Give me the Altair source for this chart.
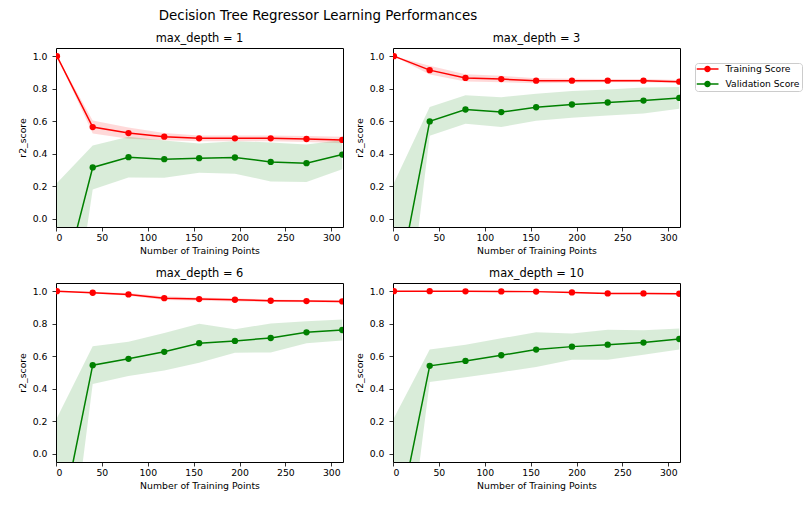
import altair as alt
import pandas as pd

sizes = [1, 40, 79, 118, 156, 195, 234, 273, 312]
depths = [1, 3, 6, 10]
series_names = ["Training Score", "Validation Score"]
series_colors = ["#ff0000", "#008000"]

train_mean_d1 = [1.0, 0.564, 0.527, 0.505, 0.495, 0.495, 0.495, 0.491, 0.485]
train_std_d1 = [0.0, 0.040, 0.035, 0.022, 0.018, 0.018, 0.018, 0.018, 0.020]
val_mean_d1 = [-0.54, 0.316, 0.379, 0.367, 0.373, 0.377, 0.350, 0.342, 0.395]
val_std_d1 = [0.76, 0.135, 0.125, 0.115, 0.090, 0.100, 0.120, 0.115, 0.090]

train_mean_d3 = [1.0, 0.914, 0.866, 0.859, 0.849, 0.849, 0.849, 0.849, 0.843]
train_std_d3 = [0.0, 0.027, 0.022, 0.020, 0.015, 0.012, 0.010, 0.010, 0.010]
val_mean_d3 = [-0.54, 0.599, 0.672, 0.656, 0.686, 0.703, 0.715, 0.727, 0.743]
val_std_d3 = [0.76, 0.088, 0.088, 0.092, 0.083, 0.082, 0.080, 0.080, 0.067]

train_mean_d6 = [1.0, 0.990, 0.980, 0.957, 0.951, 0.947, 0.941, 0.939, 0.937]
train_std_d6 = [0.0, 0.005, 0.008, 0.012, 0.010, 0.010, 0.008, 0.007, 0.007]
val_mean_d6 = [-0.54, 0.545, 0.584, 0.627, 0.680, 0.694, 0.712, 0.747, 0.761]
val_std_d6 = [0.76, 0.116, 0.105, 0.115, 0.120, 0.072, 0.089, 0.068, 0.064]

train_mean_d10 = [1.0, 1.0, 0.999, 0.998, 0.997, 0.992, 0.986, 0.986, 0.984]
train_std_d10 = [0.0, 0.001, 0.002, 0.003, 0.003, 0.004, 0.004, 0.004, 0.004]
val_mean_d10 = [-0.54, 0.541, 0.571, 0.606, 0.641, 0.659, 0.671, 0.684, 0.706]
val_std_d10 = [0.76, 0.100, 0.100, 0.104, 0.107, 0.080, 0.092, 0.075, 0.064]

panel_data = [
    (train_mean_d1, train_std_d1, val_mean_d1, val_std_d1),
    (train_mean_d3, train_std_d3, val_mean_d3, val_std_d3),
    (train_mean_d6, train_std_d6, val_mean_d6, val_std_d6),
    (train_mean_d10, train_std_d10, val_mean_d10, val_std_d10),
]

FONT = "DejaVu Sans"
LEGEND_SYMBOL = ("M-1,-0.065H1V0.065H-1Z"
                 "M-0.3,0A0.3,0.3 0 1,1 0.3,0A0.3,0.3 0 1,1 -0.3,0Z")


def make_df(tm, ts, vm, vs):
    rows = []
    for name, means, stds in ((series_names[0], tm, ts), (series_names[1], vm, vs)):
        for s, m, sd in zip(sizes, means, stds):
            rows.append({"size": s, "series": name, "mean": m,
                         "lo": m - sd, "hi": m + sd})
    return pd.DataFrame(rows)


color_scale = alt.Scale(domain=series_names, range=series_colors)
x_scale = alt.Scale(domain=[0, 312.8], nice=False, zero=False)
y_scale = alt.Scale(domain=[-0.05, 1.05], nice=False, zero=False)


def panel(depth, data, with_legend):
    df = make_df(*data)
    base = alt.Chart(df)
    x = alt.X("size:Q", scale=x_scale,
              axis=alt.Axis(values=[0, 50, 100, 150, 200, 250, 300],
                            title="Number of Training Points"))
    yaxis = alt.Axis(values=[0.0, 0.2, 0.4, 0.6, 0.8, 1.0], format=".1f",
                     title="r2_score")
    if with_legend:
        leg = alt.Legend(title=None, orient="none", legendX=302, legendY=15,
                         symbolType=LEGEND_SYMBOL, symbolSize=484,
                         symbolStrokeWidth=0, symbolOpacity=1,
                         clipHeight=9, rowPadding=5, labelOffset=7,
                         labelFont=FONT, labelFontSize=9.2, labelColor="black",
                         strokeColor="#cccccc", fillColor="white",
                         cornerRadius=3, padding=1.5)
    else:
        leg = None
    color = alt.Color("series:N", scale=color_scale, legend=leg)
    band = base.mark_area(opacity=0.15, clip=True).encode(
        x=x,
        y=alt.Y("lo:Q", scale=y_scale, axis=yaxis),
        y2="hi:Q",
        color=color,
    )
    line = base.mark_line(clip=True, strokeWidth=1.5).encode(
        x=x,
        y=alt.Y("mean:Q", scale=y_scale, axis=yaxis),
        color=color,
    )
    pts = base.mark_point(filled=True, size=40, opacity=1, clip=True).encode(
        x=x,
        y=alt.Y("mean:Q", scale=y_scale, axis=yaxis),
        color=color,
    )
    return alt.layer(band, line, pts).properties(
        width=287, height=179,
        title=alt.TitleParams(f"max_depth = {depth}", font=FONT, fontSize=11.4,
                              fontWeight="normal", color="black", offset=4),
    )


panels = [panel(d, data, i == 1) for i, (d, data) in enumerate(zip(depths, panel_data))]

chart = alt.concat(
    *panels, columns=2, spacing={"row": 56, "column": 50}, bounds="flush",
).resolve_legend(color="independent").properties(
    title=alt.TitleParams("Decision Tree Regressor Learning Performances",
                          font=FONT, fontSize=13.4, fontWeight="normal",
                          color="black", anchor="start", dx=141, offset=10),
    padding={"left": 9, "top": 0, "right": 0, "bottom": 5},
    background="white",
).configure_view(
    stroke="black", strokeWidth=1
).configure_axis(
    grid=False, domain=False, tickColor="black", tickSize=4, tickWidth=0.8,
    labelFont=FONT, labelFontSize=9.3, labelColor="black",
    titleFont=FONT, titleFontSize=9.3, titleFontWeight="normal", titleColor="black",
).configure_axisX(
    labelPadding=2, titlePadding=4
).configure_axisY(
    labelPadding=5, titlePadding=5
)

chart.save("out.html", embed_options={"renderer": "svg", "actions": False})
